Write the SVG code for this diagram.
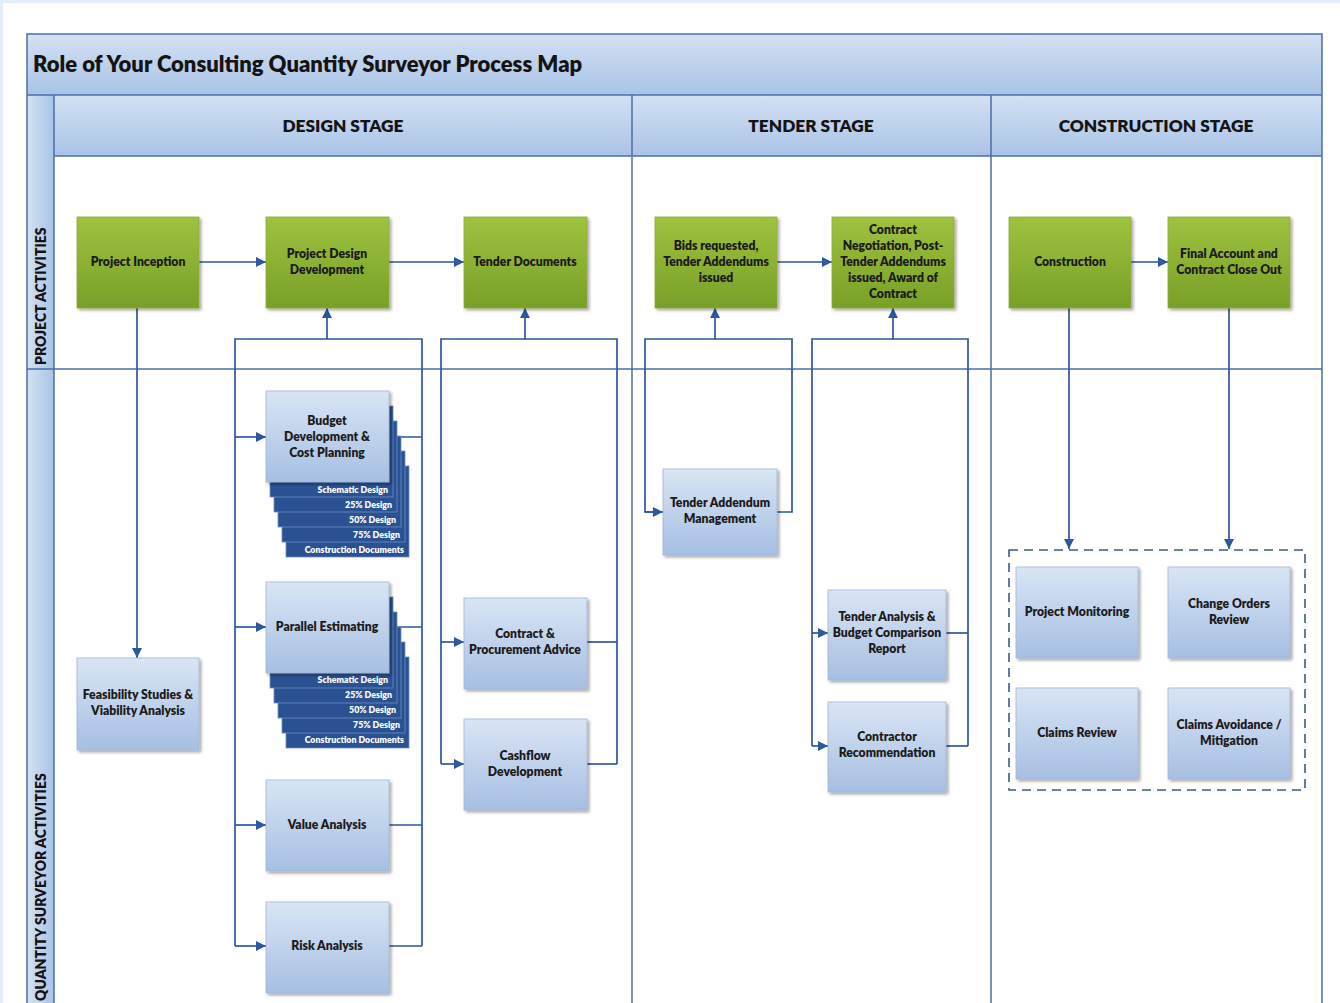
<svg xmlns="http://www.w3.org/2000/svg" width="1340" height="1003" viewBox="0 0 1340 1003">
  <style>
    .frame { fill: none; stroke: #4a6ea8; stroke-width: 1.5; }
    .title { font-family: Lato, "Open Sans", "Liberation Sans", sans-serif; font-weight: 800; font-size: 22px; fill: #141414; }
    .stage { font-family: Lato, "Open Sans", "Liberation Sans", sans-serif; font-weight: 800; font-size: 17.3px; fill: #141414; text-anchor: middle; }
    .lane { font-family: Lato, "Open Sans", "Liberation Sans", sans-serif; font-weight: 800; font-size: 14px; fill: #141414; }
    .lbl { font-family: Lato, "Open Sans", "Liberation Sans", sans-serif; font-weight: 800; font-size: 12.2px; fill: #1b1b1b; text-anchor: middle; }
    .sheet-lbl { font-family: Lato, "Open Sans", "Liberation Sans", sans-serif; font-weight: 800; font-size: 8.8px; fill: #ffffff; text-anchor: end; }
    .green { fill: url(#gGreen); stroke: #8aab3a; stroke-width: 0.8; filter: url(#shadow); }
    .blue { fill: url(#gBlue); stroke: #9fb6d9; stroke-width: 0.8; filter: url(#shadow); }
    .sheet { fill: #2a5192; stroke: #6f8fc4; stroke-width: 0.8; }
    .conn { fill: none; stroke: #2d579e; stroke-width: 1.7; }
    .arrow { fill: none; stroke: #2d579e; stroke-width: 1.7; marker-end: url(#ah); }
    .dash { fill: none; stroke: #3b5a8c; stroke-width: 1.6; stroke-dasharray: 9 6; }
  </style>
  <defs>
    <linearGradient id="gHead" x1="0" y1="0" x2="0" y2="1">
      <stop offset="0" stop-color="#d3e1f3"/>
      <stop offset="1" stop-color="#a9c3e6"/>
    </linearGradient>
    <linearGradient id="gSide" x1="0" y1="0" x2="1" y2="0">
      <stop offset="0" stop-color="#d3e1f3"/>
      <stop offset="1" stop-color="#a9c3e6"/>
    </linearGradient>
    <linearGradient id="gGreen" x1="0" y1="0" x2="0" y2="1">
      <stop offset="0" stop-color="#9fc23f"/>
      <stop offset="1" stop-color="#78a027"/>
    </linearGradient>
    <linearGradient id="gBlue" x1="0" y1="0" x2="0" y2="1">
      <stop offset="0" stop-color="#d9e5f4"/>
      <stop offset="1" stop-color="#a6bfe2"/>
    </linearGradient>
    <filter id="shadow" x="-10%" y="-10%" width="125%" height="125%">
      <feDropShadow dx="2" dy="2" stdDeviation="1.5" flood-color="#000" flood-opacity="0.35"/>
    </filter>
    <marker id="ah" viewBox="0 0 10 10" refX="10" refY="5" markerWidth="11" markerHeight="10" markerUnits="userSpaceOnUse" orient="auto">
      <path d="M0,0 L10,5 L0,10 z" fill="#2d579e"/>
    </marker>
  </defs>

  <!-- page -->
  <rect x="0" y="0" width="1340" height="1003" fill="#ffffff"/>
  <rect x="0" y="0" width="1340" height="3" fill="#e4eef8"/>
  <rect x="0" y="0" width="3" height="1003" fill="#e4eef8"/>

  <!-- swimlane frame -->
  <g id="frame">
    <rect x="27" y="34" width="1295" height="61" fill="url(#gHead)"/>
    <rect x="54" y="95" width="1268" height="61" fill="url(#gHead)"/>
    <rect x="27" y="95" width="27" height="910" fill="url(#gSide)"/>
    <rect x="27" y="34" width="1295" height="975" class="frame"/>
    <line x1="27" y1="95" x2="1322" y2="95" class="frame"/>
    <line x1="54" y1="156" x2="1322" y2="156" class="frame"/>
    <line x1="54" y1="95" x2="54" y2="1003" class="frame"/>
    <line x1="632" y1="95" x2="632" y2="1003" class="frame"/>
    <line x1="991" y1="95" x2="991" y2="1003" class="frame"/>
    <line x1="27" y1="369" x2="1322" y2="369" class="frame"/>
    <text x="33" y="72" class="title">Role of Your Consulting Quantity Surveyor Process Map</text>
    <text x="343" y="132" class="stage">DESIGN STAGE</text>
    <text x="811" y="132" class="stage">TENDER STAGE</text>
    <text x="1156" y="132" class="stage">CONSTRUCTION STAGE</text>
    <text transform="translate(46 365) rotate(-90)" class="lane">PROJECT ACTIVITIES</text>
    <text transform="translate(46 1001) rotate(-90)" class="lane">QUANTITY SURVEYOR ACTIVITIES</text>
  </g>

  <!-- connectors -->
  <g id="connectors">
    <line x1="199" y1="262" x2="266" y2="262" class="arrow"/>
    <line x1="389" y1="262" x2="464" y2="262" class="arrow"/>
    <line x1="777" y1="262" x2="832" y2="262" class="arrow"/>
    <line x1="1131" y1="262" x2="1168" y2="262" class="arrow"/>
    <line x1="137" y1="308" x2="137" y2="658" class="arrow"/>

    <!-- design development loop -->
    <line x1="327" y1="339" x2="327" y2="308" class="arrow"/>
    <polyline points="235,946 235,339 422,339 422,946" class="conn"/>
    <line x1="235" y1="437" x2="266" y2="437" class="arrow"/>
    <line x1="235" y1="627" x2="266" y2="627" class="arrow"/>
    <line x1="235" y1="825" x2="266" y2="825" class="arrow"/>
    <line x1="235" y1="946" x2="266" y2="946" class="arrow"/>
    <line x1="389" y1="437" x2="422" y2="437" class="conn"/>
    <line x1="389" y1="627" x2="422" y2="627" class="conn"/>
    <line x1="389" y1="825" x2="422" y2="825" class="conn"/>
    <line x1="389" y1="946" x2="422" y2="946" class="conn"/>

    <!-- tender documents loop -->
    <line x1="525" y1="339" x2="525" y2="308" class="arrow"/>
    <polyline points="441,764 441,339 617,339 617,764" class="conn"/>
    <line x1="441" y1="642" x2="464" y2="642" class="arrow"/>
    <line x1="441" y1="764" x2="464" y2="764" class="arrow"/>
    <line x1="587" y1="642" x2="617" y2="642" class="conn"/>
    <line x1="587" y1="764" x2="617" y2="764" class="conn"/>

    <!-- bids loop -->
    <line x1="715" y1="339" x2="715" y2="308" class="arrow"/>
    <polyline points="663,512 645,512 645,339 792,339 792,512 777,512" class="conn"/>
    <line x1="645" y1="512" x2="663" y2="512" class="arrow"/>

    <!-- contract award loop -->
    <line x1="893" y1="339" x2="893" y2="308" class="arrow"/>
    <polyline points="812,746 812,339 968,339 968,746" class="conn"/>
    <line x1="812" y1="633" x2="828" y2="633" class="arrow"/>
    <line x1="812" y1="746" x2="828" y2="746" class="arrow"/>
    <line x1="946" y1="633" x2="968" y2="633" class="conn"/>
    <line x1="946" y1="746" x2="968" y2="746" class="conn"/>

    <!-- construction stage -->
    <line x1="1069" y1="308" x2="1069" y2="549" class="arrow"/>
    <line x1="1229" y1="308" x2="1229" y2="549" class="arrow"/>
  </g>

  <!-- project activity nodes -->
  <g id="project-inception">
    <rect x="77" y="217" width="122" height="91" class="green"/>
    <text x="138" y="266" class="lbl">Project Inception</text>
  </g>
  <g id="project-design-development">
    <rect x="266" y="217" width="123" height="91" class="green"/>
    <text x="327" y="258" class="lbl">Project Design</text>
    <text x="327" y="274" class="lbl">Development</text>
  </g>
  <g id="tender-documents">
    <rect x="464" y="217" width="123" height="91" class="green"/>
    <text x="525" y="266" class="lbl">Tender Documents</text>
  </g>
  <g id="bids-requested">
    <rect x="655" y="217" width="122" height="91" class="green"/>
    <text x="716" y="250" class="lbl">Bids requested,</text>
    <text x="716" y="266" class="lbl">Tender Addendums</text>
    <text x="716" y="282" class="lbl">issued</text>
  </g>
  <g id="contract-award">
    <rect x="832" y="217" width="122" height="91" class="green"/>
    <text x="893" y="234" class="lbl">Contract</text>
    <text x="893" y="250" class="lbl">Negotiation, Post-</text>
    <text x="893" y="266" class="lbl">Tender Addendums</text>
    <text x="893" y="282" class="lbl">issued, Award of</text>
    <text x="893" y="298" class="lbl">Contract</text>
  </g>
  <g id="construction">
    <rect x="1009" y="217" width="122" height="91" class="green"/>
    <text x="1070" y="266" class="lbl">Construction</text>
  </g>
  <g id="final-account">
    <rect x="1168" y="217" width="122" height="91" class="green"/>
    <text x="1229" y="258" class="lbl">Final Account and</text>
    <text x="1229" y="274" class="lbl">Contract Close Out</text>
  </g>

  <!-- quantity surveyor nodes -->
  <g id="feasibility">
    <rect x="77" y="658" width="122" height="92" class="blue"/>
    <text x="138" y="699" class="lbl">Feasibility Studies &amp;</text>
    <text x="138" y="715" class="lbl">Viability Analysis</text>
  </g>

  <g id="budget-development">
    <rect x="286" y="466" width="123" height="91" class="sheet"/>
    <rect x="282" y="451" width="123" height="91" class="sheet"/>
    <rect x="278" y="436" width="123" height="91" class="sheet"/>
    <rect x="274" y="421" width="123" height="91" class="sheet"/>
    <rect x="270" y="406" width="123" height="91" class="sheet"/>
    <text x="388" y="493" class="sheet-lbl">Schematic Design</text>
    <text x="392" y="508" class="sheet-lbl">25% Design</text>
    <text x="396" y="523" class="sheet-lbl">50% Design</text>
    <text x="400" y="538" class="sheet-lbl">75% Design</text>
    <text x="404" y="553" class="sheet-lbl">Construction Documents</text>
    <rect x="266" y="391" width="123" height="91" class="blue"/>
    <text x="327" y="425" class="lbl">Budget</text>
    <text x="327" y="441" class="lbl">Development &amp;</text>
    <text x="327" y="457" class="lbl">Cost Planning</text>
  </g>

  <g id="parallel-estimating">
    <rect x="286" y="657" width="123" height="91" class="sheet"/>
    <rect x="282" y="642" width="123" height="91" class="sheet"/>
    <rect x="278" y="627" width="123" height="91" class="sheet"/>
    <rect x="274" y="612" width="123" height="91" class="sheet"/>
    <rect x="270" y="597" width="123" height="91" class="sheet"/>
    <text x="388" y="683" class="sheet-lbl">Schematic Design</text>
    <text x="392" y="698" class="sheet-lbl">25% Design</text>
    <text x="396" y="713" class="sheet-lbl">50% Design</text>
    <text x="400" y="728" class="sheet-lbl">75% Design</text>
    <text x="404" y="743" class="sheet-lbl">Construction Documents</text>
    <rect x="266" y="582" width="123" height="91" class="blue"/>
    <text x="327" y="631" class="lbl">Parallel Estimating</text>
  </g>

  <g id="value-analysis">
    <rect x="266" y="780" width="123" height="91" class="blue"/>
    <text x="327" y="829" class="lbl">Value Analysis</text>
  </g>
  <g id="risk-analysis">
    <rect x="266" y="902" width="123" height="91" class="blue"/>
    <text x="327" y="950" class="lbl">Risk Analysis</text>
  </g>

  <g id="contract-procurement-advice">
    <rect x="464" y="598" width="123" height="91" class="blue"/>
    <text x="525" y="638" class="lbl">Contract &amp;</text>
    <text x="525" y="654" class="lbl">Procurement Advice</text>
  </g>
  <g id="cashflow-development">
    <rect x="464" y="719" width="123" height="91" class="blue"/>
    <text x="525" y="760" class="lbl">Cashflow</text>
    <text x="525" y="776" class="lbl">Development</text>
  </g>

  <g id="tender-addendum-management">
    <rect x="663" y="469" width="114" height="86" class="blue"/>
    <text x="720" y="507" class="lbl">Tender Addendum</text>
    <text x="720" y="523" class="lbl">Management</text>
  </g>

  <g id="tender-analysis">
    <rect x="828" y="590" width="118" height="90" class="blue"/>
    <text x="887" y="621" class="lbl">Tender Analysis &amp;</text>
    <text x="887" y="637" class="lbl">Budget Comparison</text>
    <text x="887" y="653" class="lbl">Report</text>
  </g>
  <g id="contractor-recommendation">
    <rect x="828" y="702" width="118" height="90" class="blue"/>
    <text x="887" y="741" class="lbl">Contractor</text>
    <text x="887" y="757" class="lbl">Recommendation</text>
  </g>

  <!-- construction-stage services -->
  <g id="construction-services">
    <rect x="1009" y="550" width="296" height="240" class="dash"/>
  </g>
  <g id="project-monitoring">
    <rect x="1016" y="567" width="122" height="91" class="blue"/>
    <text x="1077" y="616" class="lbl">Project Monitoring</text>
  </g>
  <g id="change-orders-review">
    <rect x="1168" y="567" width="122" height="91" class="blue"/>
    <text x="1229" y="608" class="lbl">Change Orders</text>
    <text x="1229" y="624" class="lbl">Review</text>
  </g>
  <g id="claims-review">
    <rect x="1016" y="688" width="122" height="91" class="blue"/>
    <text x="1077" y="737" class="lbl">Claims Review</text>
  </g>
  <g id="claims-avoidance">
    <rect x="1168" y="688" width="122" height="91" class="blue"/>
    <text x="1229" y="729" class="lbl">Claims Avoidance /</text>
    <text x="1229" y="745" class="lbl">Mitigation</text>
  </g>
</svg>
